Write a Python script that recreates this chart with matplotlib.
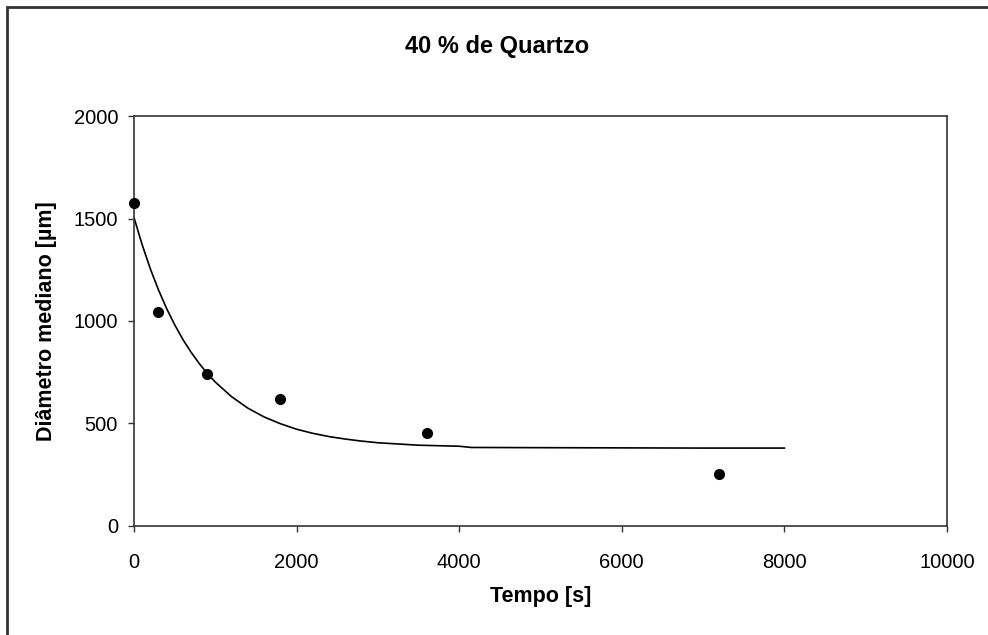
import numpy as np
import matplotlib.pyplot as plt
from matplotlib.patches import Rectangle

plt.rcParams['font.family'] = ['Liberation Sans', 'DejaVu Sans']

# medições: tempo de moagem [s] e diâmetro mediano [um]
tempo_exp = [0, 300, 900, 1800, 3600, 7200]
diam_exp = [1575, 1045, 740, 620, 455, 255]

# curva do modelo ajustado
tempo_mod = [0, 100, 200, 300, 400, 500, 600, 700, 800, 900, 1000, 1200, 1400,
             1600, 1800, 2000, 2200, 2400, 2600, 2800, 3000, 3500, 4000, 4150,
             5000, 6000, 7000, 8000]
diam_mod = [1505, 1373, 1256, 1153, 1062, 982, 911, 849, 794, 745, 702, 631, 575,
            532, 499, 472, 452, 436, 424, 414, 406, 394, 389, 383,
            382, 381, 380, 380]

fig = plt.figure(figsize=(9.88, 6.35), dpi=100)
ax = fig.add_axes([0.1356, 0.1717, 0.8229, 0.6456])

ax.plot(tempo_mod, diam_mod, color='black', lw=1.2, zorder=2)
ax.plot(tempo_exp, diam_exp, 'o', color='black', ms=7, zorder=3, clip_on=False)

ax.set_xlim(0, 10000)
ax.set_ylim(0, 2000)
ax.set_xticks(np.arange(0, 10001, 2000))
ax.set_yticks(np.arange(0, 2001, 500))
ax.tick_params(direction='out', length=4.5, width=1, color='#333333',
               labelsize=14.5)
ax.tick_params(axis='x', pad=15)
ax.tick_params(axis='y', pad=7)
for s in ax.spines.values():
    s.set_color('#333333')
    s.set_linewidth(1.2)

ax.set_xlabel('Tempo [s]', fontsize=15.5, fontweight='bold', labelpad=10)
ax.set_ylabel('Diâmetro mediano [µm]', fontsize=15.5, fontweight='bold', labelpad=12)
fig.text(0.503, 1 - 47 / 635, '40 % de Quartzo', fontsize=17, fontweight='bold',
         ha='center', va='center')

# moldura do gráfico (só bordas superior e esquerda ficam visíveis)
fig.patches.append(Rectangle((7 / 988, -0.1), 1.2, 1.1 - 7 / 635,
                             transform=fig.transFigure, fill=False,
                             edgecolor='#333333', lw=2))

fig.savefig('out.png', dpi=100)
